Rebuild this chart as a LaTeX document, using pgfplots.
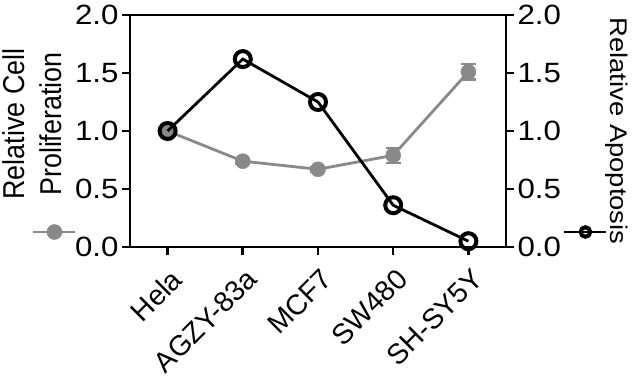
\documentclass[border=0pt]{standalone}
\usepackage{fontspec}
\setmainfont{Liberation Sans}
\newfontfamily\wide{Liberation Sans}[FakeStretch=1.12]
\usepackage{pgfplots}
\usepackage{pgfplotstable}
\pgfplotsset{compat=1.18}
\definecolor{pgray}{RGB}{137,137,137}

\pgfplotstableread{
x y e
0 1.00 0.02
1 0.74 0.02
2 0.67 0.02
3 0.79 0.066
4 1.51 0.066
}\prolif
\pgfplotstableread{
x y
0 1.00
1 1.62
2 1.25
3 0.36
4 0.05
}\apop

\begin{document}
\begin{tikzpicture}
\pgfplotsset{
  common/.style={
    scale only axis, width=376bp, height=232bp,
    xmin=-0.5, xmax=4.5, ymin=0, ymax=2,
    ytick={0,0.5,1,1.5,2},
    clip=false,
    axis line style={line width=2.6bp},
    major tick style={line width=2.6bp, black},
    major tick length=8bp,
    tick align=outside,
    /pgf/number format/assume math mode=true,
    yticklabel style={font=\wide\fontsize{28}{32}\selectfont, /pgf/number format/.cd, fixed, fixed zerofill, precision=1},
    legend image code/.code={\draw[mark repeat=2,mark phase=2,##1] plot coordinates {(0bp,0bp)(21bp,0bp)(42bp,0bp)};},
  }
}
\begin{axis}[common,
  xtick pos=left, ytick pos=left,
  xtick={0,1,2,3,4},
  xticklabels={Hela,AGZY-83a,MCF7,SW480,SH-SY5Y},
  xticklabel style={font=\fontsize{28.5}{32}\selectfont, xshift=2bp, yshift=-12bp, rotate=45, anchor=north east, inner sep=0pt},
  ylabel={\scalebox{1}[1.12]{Relative Cell}\\\scalebox{1}[1.12]{Proliferation}},
  ylabel style={font=\fontsize{27}{37}\selectfont, align=center, at={(axis description cs:-0.181,0.53)}, anchor=south, inner sep=0pt},
  legend style={draw=none, fill=none, inner sep=0pt, outer sep=0pt, nodes={inner sep=0pt}, at={(axis description cs:-0.2606,0.0647)}, anchor=west},
]
\addplot[pgray, line width=2.8bp, mark=*, mark size=7.5bp, mark options={solid, fill=pgray, draw=pgray, line width=0.5bp},
  error bars/.cd, y dir=both, y explicit,
  error bar style={line width=2.4bp, pgray},
  error mark options={rotate=90, mark size=7.5bp, line width=2.4bp, pgray}]
  table[x=x, y=y, y error=e] {\prolif};
\addlegendentry{}
\end{axis}
\begin{axis}[common,
  axis x line=none, axis y line*=right,
  ylabel={\scalebox{1}[0.88]{Relative Apoptosis}},
  ylabel style={font=\fontsize{27.5}{32}\selectfont, at={(axis description cs:1.326,0.5)}, anchor=north, rotate=180, inner sep=0pt},
  legend style={draw=none, fill=none, inner sep=0pt, outer sep=0pt, nodes={inner sep=0pt}, at={(axis description cs:1.1516,0.0647)}, anchor=west},
  legend image post style={mark size=4.8bp},
]
\addplot[black, line width=2.8bp, mark=o, mark size=8bp, mark options={solid, line width=4bp}]
  table[x=x, y=y] {\apop};
\addlegendentry{}
\end{axis}
\path (-130bp,-138bp) rectangle (504bp,247bp);
\end{tikzpicture}
\end{document}
